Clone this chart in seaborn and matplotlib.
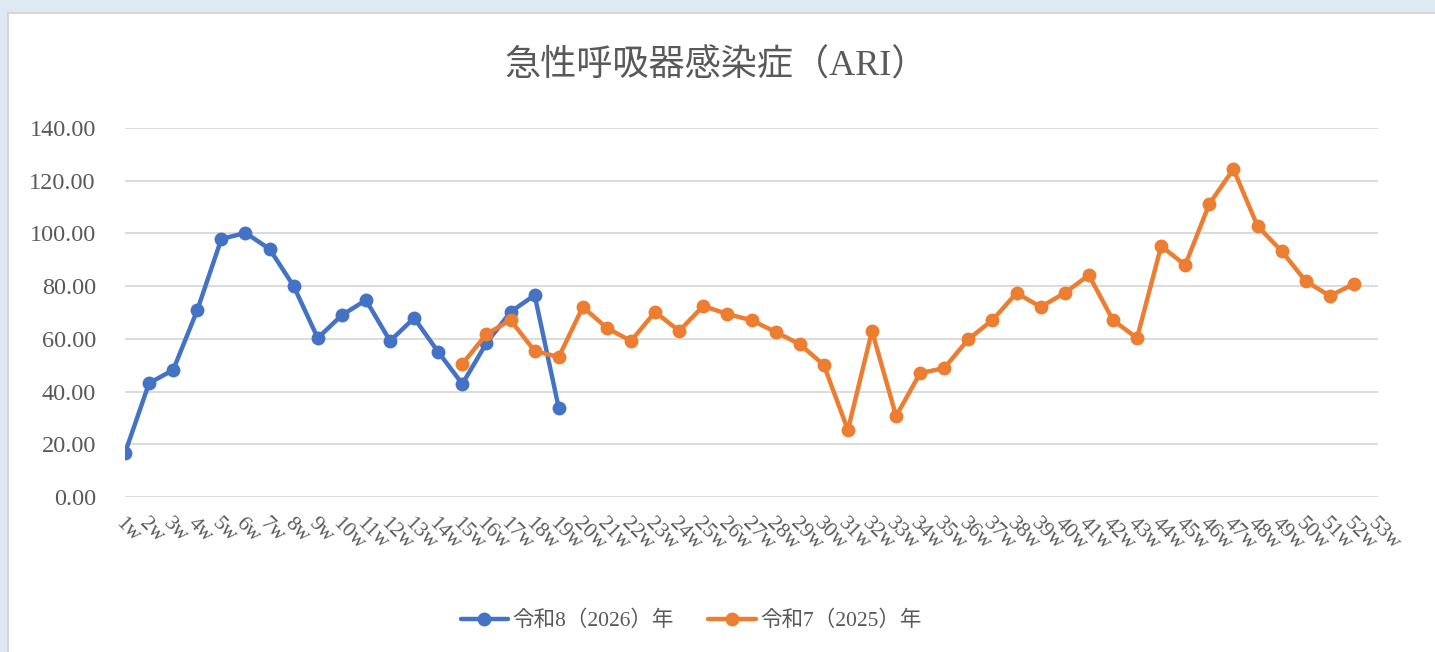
import numpy as np
import pandas as pd
import matplotlib
matplotlib.use("Agg")
import matplotlib.pyplot as plt
from matplotlib.patches import Rectangle
import seaborn as sns

weeks = [f"{i}w" for i in range(1, 54)]

# 令和8（2026）年: weeks 1-19
r8_values = [16.7, 43.2, 48.2, 70.9, 97.9, 100.2, 94.1, 80.0, 60.3, 69.0,
             74.7, 59.2, 67.9, 55.0, 42.9, 58.4, 70.2, 76.6, 33.8]
# 令和7（2025）年: weeks 15-52
r7_start = 15
r7_values = [50.5, 61.8, 67.1, 55.4, 53.1, 72.1, 64.1, 59.2, 70.2, 63.0,
             72.5, 69.4, 67.1, 62.6, 58.0, 50.1, 25.4, 63.0, 30.7, 47.0,
             48.9, 59.9, 67.1, 77.4, 72.1, 77.4, 84.2, 67.1, 60.3, 95.2,
             88.0, 111.2, 124.4, 102.8, 93.3, 81.9, 76.3, 80.8]

series_names = ["令和8（2026）年", "令和7（2025）年"]
colors = ["#4472C4", "#ED7D31"]

df = pd.concat([
    pd.DataFrame({"pos": np.arange(len(r8_values)), "value": r8_values,
                  "series": series_names[0]}),
    pd.DataFrame({"pos": np.arange(len(r7_values)) + r7_start - 1, "value": r7_values,
                  "series": series_names[1]}),
], ignore_index=True)

sns.set_style("white")
plt.rcParams["font.family"] = ["Liberation Serif", "Noto Sans CJK JP"]
text_color = "#595959"

fig = plt.figure(figsize=(14.35, 6.52), dpi=100)
fig.patch.set_facecolor("#DEE9F4")
# white chart panel behind everything
panel = Rectangle((8 / 1435, -0.01), 1 - 8 / 1435 + 0.01, 1 - 13 / 652 + 0.01,
                  transform=fig.transFigure, facecolor="white",
                  edgecolor="#D0D0D0", linewidth=1.2, zorder=-10)
fig.add_artist(panel)

ax = fig.add_axes([125 / 1435, 1 - 497 / 652, (1378 - 125) / 1435, (497 - 128) / 652])
ax.set_zorder(1)
ax.patch.set_alpha(0)

sns.lineplot(data=df, x="pos", y="value", hue="series", hue_order=series_names,
             palette=colors, marker="o", markersize=10, markeredgewidth=0,
             linewidth=3.2, ax=ax, legend=False, zorder=3)

ax.set_xlim(0, len(weeks) - 1)
ax.set_ylim(0, 140)
ax.set_yticks(np.arange(0, 141, 20))
ax.set_yticklabels([f"{v:.2f}" for v in np.arange(0, 141, 20)],
                   fontsize=17.5, color=text_color)
ax.set_xticks(np.arange(len(weeks)))
ax.set_xticklabels(weeks, rotation=-45, ha="left", va="top",
                   rotation_mode="anchor", fontsize=15.5, color=text_color)
ax.tick_params(axis="y", length=0, pad=21)
ax.tick_params(axis="x", length=0, pad=12)
ax.grid(axis="y", color="#D9D9D9", linewidth=1.3)
ax.set_axisbelow(True)
for s in ax.spines.values():
    s.set_visible(False)
ax.set_xlabel("")
ax.set_ylabel("")

fig.text(716 / 1435, 1 - 66 / 652, "急性呼吸器感染症（ARI）", ha="center", va="center",
         fontsize=26, color=text_color)

handles = [plt.Line2D([], [], color=c, marker="o", markersize=10, linewidth=3.2,
                      markeredgewidth=0, solid_capstyle="round") for c in colors]
leg = fig.legend(handles, series_names, loc="center", bbox_to_anchor=(691 / 1435, 1 - 621 / 652),
                 ncol=2, frameon=False, handlelength=2.2,
                 handletextpad=0.2, columnspacing=1.6,
                 prop={"family": ["Liberation Serif", "Noto Sans CJK JP"], "size": 15.5})
for t in leg.get_texts():
    t.set_color(text_color)

fig.savefig("out.png", dpi=100)
